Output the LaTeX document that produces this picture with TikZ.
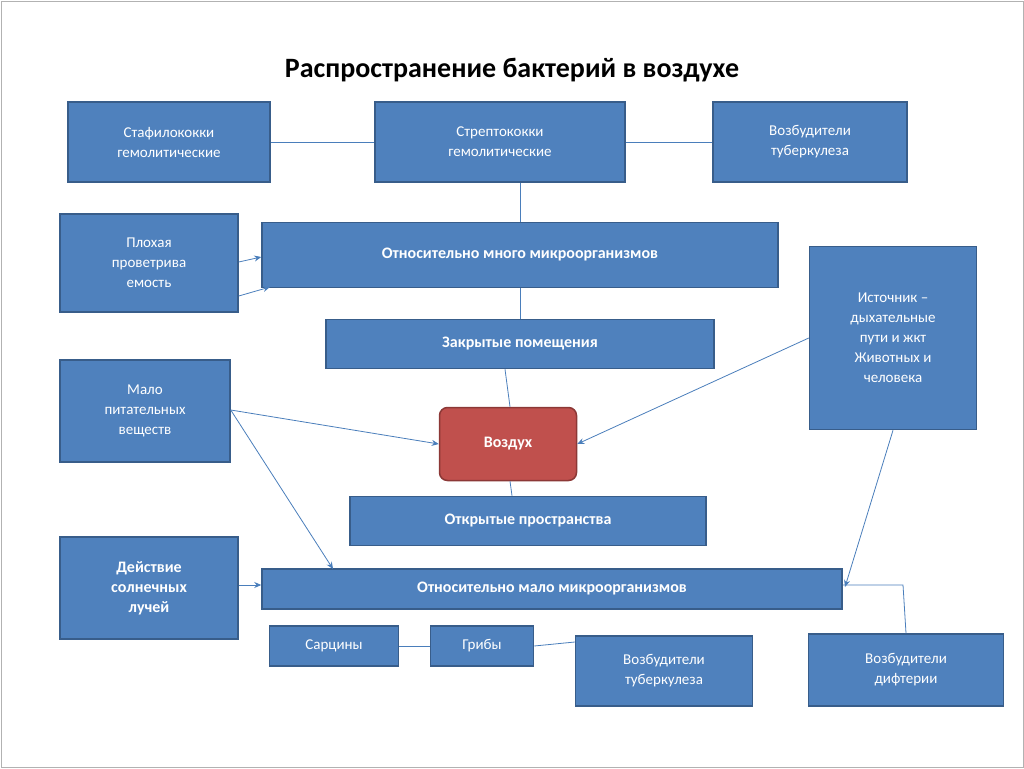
\documentclass[tikz,border=0pt]{standalone}
\usepackage{fontspec}
\setmainfont{Carlito}
\usetikzlibrary{arrows.meta}
\definecolor{boxblue}{RGB}{79,129,189}
\definecolor{boxedge}{RGB}{56,93,138}
\definecolor{boxred}{RGB}{192,80,77}
\definecolor{rededge}{RGB}{140,56,54}
\definecolor{wire}{RGB}{74,126,187}
\tikzset{
  box/.style={draw=boxedge, line width=1.5pt, fill=boxblue, text=white, align=center,
    inner sep=2pt, font=\fontsize{15}{20}\selectfont},
  boldbox/.style={box, font=\fontsize{16}{20}\selectfont\bfseries},
  wirel/.style={draw=wire, line width=0.8pt},
  arr/.style={wirel, -{Stealth[length=7pt,width=6pt]}}
}
\begin{document}
\begin{tikzpicture}[x=1pt, y=-1pt]
  \useasboundingbox (0,0) rectangle (1024,768);
  \draw[gray!60] (1,1) rectangle (1023,767);
  \node[font=\fontsize{28}{32}\selectfont\bfseries] (title) at (512,70) {Распространение бактерий в воздухе};

  \node[box, minimum width=202pt, minimum height=80pt] (staph) at (169,142) {Стафилококки\\гемолитические};
  \node[box, minimum width=250pt, minimum height=80pt] (strep) at (500,142) {Стрептококки\\гемолитические};
  \node[box, minimum width=194pt, minimum height=80pt] (tbtop) at (810,142) {Возбудители\\туберкулеза};
  \node[box, minimum width=178pt, minimum height=98pt] (poor) at (149,263) {Плохая\\проветрива\\емость};
  \node[boldbox, minimum width=516pt, minimum height=65pt] (many) at (520,255) {Относительно много микроорганизмов};
  \node[boldbox, minimum width=388pt, minimum height=49pt] (closed) at (520,344) {Закрытые помещения};
  \node[box, minimum width=167pt, minimum height=183pt] (source) at (893,338) {Источник –\\дыхательные\\пути и жкт\\Животных и\\человека};
  \node[box, minimum width=170pt, minimum height=102pt] (food) at (145,411) {Мало\\питательных\\веществ};
  \node[boldbox, draw=rededge, fill=boxred, rounded corners=8pt, minimum width=137pt, minimum height=73pt] (air) at (508,444) {Воздух};
  \node[boldbox, minimum width=356pt, minimum height=49pt] (open) at (528,521) {Открытые пространства};
  \node[boldbox, minimum width=178pt, minimum height=102pt] (sun) at (149,588) {Действие\\солнечных\\лучей};
  \node[boldbox, minimum width=580pt, minimum height=40pt] (few) at (552,589) {Относительно мало микроорганизмов};
  \node[box, minimum width=129pt, minimum height=40pt] (sarc) at (334,646) {Сарцины};
  \node[box, minimum width=103pt, minimum height=40pt] (fungi) at (482,646) {Грибы};
  \node[box, minimum width=177pt, minimum height=70pt] (tbbot) at (664,671) {Возбудители\\туберкулеза};
  \node[box, minimum width=195pt, minimum height=72pt] (diph) at (906,670) {Возбудители\\дифтерии};

  \draw[wirel] (staph) -- (strep);
  \draw[wirel] (strep) -- (tbtop);
  \draw[wirel] (strep.south -| 520,0) -- (many.north -| 520,0);
  \draw[wirel] (many.south -| 520,0) -- (closed.north -| 520,0);
  \draw[wirel] (closed.south -| 505,0) -- (air.north -| 510,0);
  \draw[wirel] (air.south -| 510,0) -- (open.north -| 512,0);
  \draw[wirel] (sarc) -- (fungi);
  \draw[wirel] (fungi.east) -- (tbbot.west |- 0,642);
  \draw[wirel] (diph.north) -- (903,585) -- (few.east |- 0,585);

  \draw[arr] (poor.east |- 0,262) -- (many.west |- 0,257);
  \draw[arr] (poor.east |- 0,296) -- (270,287);
  \draw[arr] (food.east |- 0,410) -- (air.west);
  \draw[arr] (food.east |- 0,410) -- (333,569);
  \draw[arr] (source.west) -- (air.east);
  \draw[arr] (source.south) -- (845,587);
  \draw[arr] (sun.east |- 0,585) -- (few.west |- 0,585);
\end{tikzpicture}
\end{document}
